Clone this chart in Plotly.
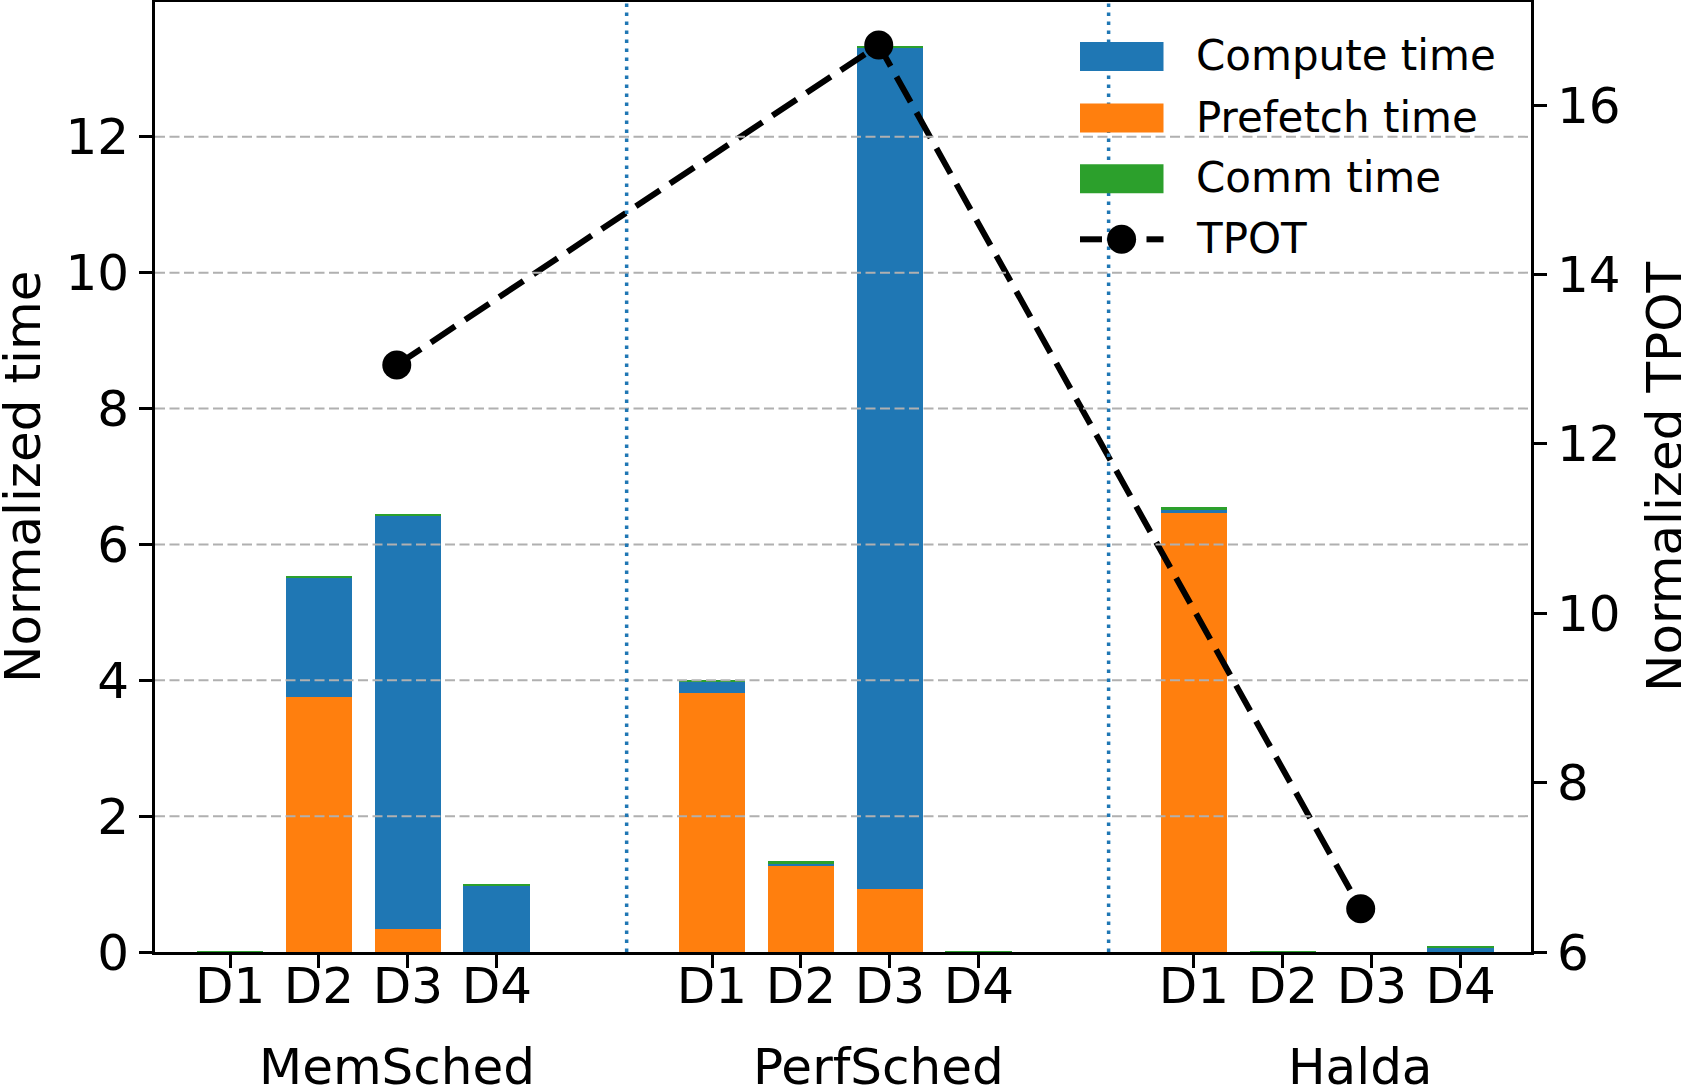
import plotly.graph_objects as go

# ---------------- data ----------------
groups = ["MemSched", "PerfSched", "Halda"]
devices = ["D1", "D2", "D3", "D4"]
# values per (group, device), flattened in group order
prefetch_time = [0.0, 3.76, 0.34, 0.0,
                 3.81, 1.27, 0.93, 0.0,
                 6.46, 0.0, 0.0, 0.0]
compute_time = [0.0, 1.75, 6.08, 0.98,
                0.17, 0.03, 12.38, 0.0,
                0.04, 0.0, 0.0, 0.065]
comm_time = [0.01, 0.015, 0.015, 0.012,
             0.02, 0.04, 0.015, 0.01,
             0.05, 0.01, 0.0, 0.028]
tpot = [12.93, 16.71, 6.51]

legend_labels = ["Compute time", "Prefetch time", "Comm time", "TPOT"]

# ---------------- layout helpers ----------------
W, H = 1681, 1086
ML, MR, MT, MB = 155, 150, 2, 134
PW, PH = W - ML - MR, H - MT - MB

C_COMPUTE, C_PREFETCH, C_COMM = "#1f77b4", "#ff7f0e", "#2ca02c"
FONT = "DejaVu Sans"

GROUP_STEP = 5.42
x_pos = [g * GROUP_STEP + i for g in range(len(groups)) for i in range(len(devices))]
tick_text = [d for _ in groups for d in devices]
group_x = [g * GROUP_STEP + 1.875 for g in range(len(groups))]
sep_x = [g * GROUP_STEP + 4.46 for g in range(len(groups) - 1)]

def px(X):
    return (X - ML) / PW

def py(Y):
    return (H - MB - Y) / PH

TPOT_LINE = dict(color="black", width=6, dash="29px,12px")

fig = go.Figure()

bar_kw = dict(width=0.75, marker_line_width=0, showlegend=False)
fig.add_trace(go.Bar(x=x_pos, y=prefetch_time, name="Prefetch time",
                     marker_color=C_PREFETCH, **bar_kw))
fig.add_trace(go.Bar(x=x_pos, y=compute_time, name="Compute time",
                     marker_color=C_COMPUTE, **bar_kw))
fig.add_trace(go.Bar(x=x_pos, y=comm_time, name="Comm time",
                     marker_color=C_COMM, **bar_kw))

fig.add_trace(go.Scatter(x=group_x, y=tpot, yaxis="y2", name="TPOT",
                         mode="lines+markers", showlegend=False,
                         line=TPOT_LINE,
                         marker=dict(size=29, color="black")))

shapes = []
# horizontal dashed grid (drawn over bars, as in the reference)
for v in range(2, 13, 2):
    shapes.append(dict(type="line", xref="paper", yref="y", x0=0, x1=1, y0=v, y1=v,
                       line=dict(color="#b0b0b0", width=2, dash="10px,4.5px"),
                       layer="above"))
# group separators
for sx in sep_x:
    shapes.append(dict(type="line", xref="x", yref="paper", x0=sx, x1=sx, y0=0, y1=1,
                       line=dict(color=C_COMPUTE, width=3.5, dash="3.5px,5.5px"),
                       layer="above"))

# custom legend
leg_x0, leg_x1 = 1080, 1163.5
rows = [56.5, 118, 178.7, 239.3]
patch_h = 29
annotations = []
for lab, col, yc in zip(legend_labels[:3], [C_COMPUTE, C_PREFETCH, C_COMM], rows[:3]):
    shapes.append(dict(type="rect", xref="paper", yref="paper",
                       x0=px(leg_x0), x1=px(leg_x1),
                       y0=py(yc + patch_h / 2), y1=py(yc - patch_h / 2),
                       fillcolor=col, line=dict(width=0), layer="above"))
for sx0, sx1 in [(leg_x0, leg_x0 + 22), (leg_x1 - 17, leg_x1)]:
    shapes.append(dict(type="line", xref="paper", yref="paper",
                       x0=px(sx0), x1=px(sx1), y0=py(rows[3]), y1=py(rows[3]),
                       line=dict(color="black", width=6), layer="above"))
mx, r = 1121.6, 14.5
shapes.append(dict(type="circle", xref="paper", yref="paper",
                   x0=px(mx - r), x1=px(mx + r), y0=py(rows[3] + r), y1=py(rows[3] - r),
                   fillcolor="black", line=dict(width=0), layer="above"))
for lab, yc in zip(legend_labels, rows):
    annotations.append(dict(text=lab, xref="paper", yref="paper", x=px(1194), y=py(yc - 1),
                            xanchor="left", yanchor="middle", showarrow=False,
                            font=dict(family=FONT, size=42, color="black")))

# group labels
for gname, gx in zip(groups, group_x):
    annotations.append(dict(text=gname, xref="x", yref="paper", x=gx, y=py(1067),
                            xanchor="center", yanchor="middle", showarrow=False,
                            font=dict(family=FONT, size=50, color="black")))

# axis titles
annotations.append(dict(text="Normalized time", xref="paper", yref="paper",
                        x=px(23), y=0.5, textangle=-90, xanchor="center", yanchor="middle",
                        showarrow=False, font=dict(family=FONT, size=50, color="black")))
annotations.append(dict(text="Normalized TPOT", xref="paper", yref="paper",
                        x=px(1665), y=0.5, textangle=-90, xanchor="center", yanchor="middle",
                        showarrow=False, font=dict(family=FONT, size=50, color="black")))

axis_common = dict(showline=True, linecolor="black", linewidth=3, ticks="outside",
                   ticklen=13, tickwidth=2.5, tickcolor="black", zeroline=False,
                   showgrid=False, layer="above traces",
                   tickfont=dict(family=FONT, size=50, color="black"))

fig.update_layout(
    width=W, height=H,
    margin=dict(l=ML, r=MR, t=MT, b=MB, pad=0),
    template="none",
    plot_bgcolor="white", paper_bgcolor="white",
    barmode="stack", bargap=0,
    showlegend=False,
    font=dict(family=FONT, size=50, color="black"),
    xaxis=dict(range=[-0.844, 14.63], tickmode="array", tickvals=x_pos, ticktext=tick_text,
               mirror=True, ticklabelstandoff=-25, **axis_common),
    yaxis=dict(range=[0, 13.985], tickmode="array", tickvals=list(range(0, 13, 2)),
               **axis_common),
    yaxis2=dict(range=[6, 17.217], overlaying="y", side="right", tickmode="array",
                tickvals=list(range(6, 17, 2)), **axis_common),
    shapes=shapes,
    annotations=annotations,
)

fig.write_html("out.html")
